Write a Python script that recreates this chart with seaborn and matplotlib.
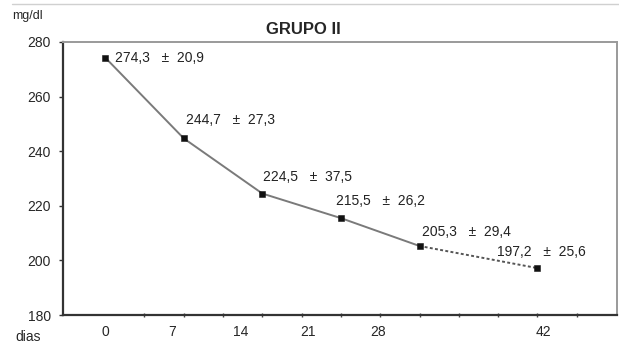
import numpy as np
import pandas as pd
import matplotlib
matplotlib.use("Agg")
import matplotlib.pyplot as plt
import matplotlib.transforms as mtransforms
import seaborn as sns

# Werte aus der Grafik (Mittelwert + Standardabweichung, mg/dl)
dias = ["0", "7", "14", "21", "28", "42"]
posicion = [0, 2, 4, 6, 8, 11]          # Lage der Punkte auf der Kategorienachse
media = [274.3, 244.7, 224.5, 215.5, 205.3, 197.2]
desvio = [20.9, 27.3, 37.5, 26.2, 29.4, 25.6]
pos_etiquetas = [0, 1.7, 3.44, 5.17, 6.95, 11.15]  # wo die Tagesbeschriftung steht

df = pd.DataFrame({"pos": posicion, "media": media, "desvio": desvio})

sns.set_style("white")
plt.rcParams["font.family"] = ["Liberation Sans", "DejaVu Sans"]

fig = plt.figure(figsize=(6.19, 3.47), dpi=100)
ax = fig.add_axes([0.102, 0.092, 0.895, 0.787])

gris = "#7a7a7a"
# durchgezogene Linie bis Tag 28, gepunktet bis Tag 42
sns.lineplot(data=df.iloc[:5], x="pos", y="media", ax=ax, color=gris, lw=1.4)
sns.lineplot(data=df.iloc[4:], x="pos", y="media", ax=ax, color="#555555",
             lw=1.4, linestyle=(0, (1.5, 1.2)))
sns.scatterplot(data=df, x="pos", y="media", ax=ax, marker="s", s=22,
                color="#111111", edgecolor="#111111", zorder=5)

# Beschriftung jedes Punktes
offsets = [(10, 0), (2, 18), (1, 17), (-5, 17), (2, 14), (-40, 16)]
for (_, r), off in zip(df.iterrows(), offsets):
    txt = f"{r.media:.1f}".replace(".", ",") + "   ±  " + f"{r.desvio:.1f}".replace(".", ",")
    ax.annotate(txt, (r.pos, r.media), xytext=off, textcoords="offset pixels",
                ha="left", va="center", fontsize=10, color="#222222")

ax.set_xlim(-1.07, 13.03)
ax.set_ylim(180, 280)
ax.set_yticks([180, 200, 220, 240, 260, 280])
ax.tick_params(axis="y", direction="out", length=3, width=1, color="#333333",
               labelsize=10, pad=6, left=True)
ax.set_xticks(pos_etiquetas)
ax.set_xticklabels(dias)
ax.set_xticks(np.arange(0, 13), minor=True)
ax.tick_params(axis="x", which="major", length=0, labelsize=10, pad=7)
ax.tick_params(axis="x", which="minor", direction="inout", length=3, width=1,
               color="#444444", bottom=True)
ax.set_xlabel("")
ax.set_ylabel("")

for lado in ["left", "bottom"]:
    ax.spines[lado].set_color("#333333")
    ax.spines[lado].set_linewidth(1.6)
for lado in ["top", "right"]:
    ax.spines[lado].set_color("#9a9a9a")
    ax.spines[lado].set_linewidth(1.4)

trans = mtransforms.blended_transform_factory(ax.transData, ax.transAxes)
ax.text(-1.96, -0.055, "dias", transform=trans, ha="center", va="top", fontsize=10)
fig.text(0.045, 0.955, "mg/dl", ha="center", va="center", fontsize=9)
fig.text(0.49, 0.915, "GRUPO II", ha="center", va="center", fontsize=12,
         fontweight="bold")
fig.add_artist(plt.Line2D([0.02, 1.0], [0.988, 0.988], color="#d0d0d0", lw=1))

fig.savefig("out.png", dpi=100)
